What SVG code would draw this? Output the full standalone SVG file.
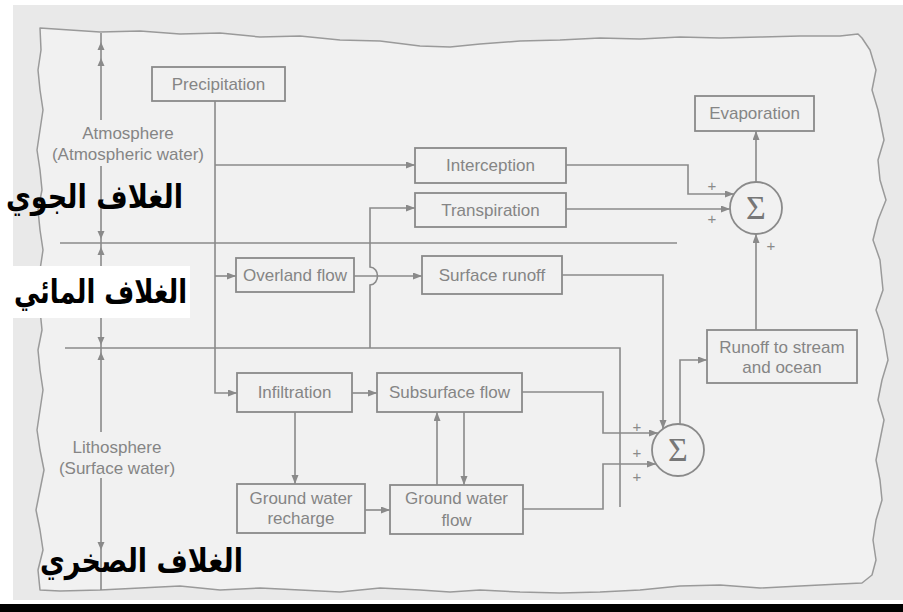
<svg xmlns="http://www.w3.org/2000/svg" width="903" height="612" viewBox="0 0 903 612">
<style>
.box{fill:none;stroke:#8a8a8a;stroke-width:1.8}
.ln{fill:none;stroke:#8a8a8a;stroke-width:1.6}
.t{font-family:"Liberation Sans",Arial,sans-serif;font-size:17px;fill:#858585;text-anchor:middle}
.sg{font-family:"Liberation Serif","Times New Roman",serif;font-size:34px;fill:#777777;text-anchor:middle}
.pl{font-family:"Liberation Sans",Arial,sans-serif;font-size:15px;fill:#8a8a8a;text-anchor:middle}
.ar{font-family:"DejaVu Sans",sans-serif;font-weight:bold;font-size:33px;fill:#000;text-anchor:start}
.ah{fill:#8a8a8a}
</style>
<defs>
<marker id="arr" markerUnits="userSpaceOnUse" markerWidth="10" markerHeight="8" refX="9" refY="3.5" orient="auto">
<path d="M0,0 L9,3.5 L0,7 z" fill="#8a8a8a"/>
</marker>
<path id="dn" d="M0,0 L-3.5,-8 L3.5,-8 z"/>
</defs>
<rect x="0" y="0" width="903" height="612" fill="#ffffff"/>
<rect x="13" y="5" width="890" height="595" fill="#e9e9e9"/>
<rect x="0" y="604" width="903" height="8" fill="#000000"/>
<g id="border">
<path d="M40,28 L70,30 L100,32 L140,31 L180,34 L220,33 L260,37 L300,36 L340,40 L380,41 L420,46 L450,47 L480,44 L520,41 L560,40 L600,38 L640,39 L680,37 L720,38 L760,37 L800,36 L840,36 L858,34 L862,38 L870,50 L876,70 L872,90 L878,110 L884,140 L878,160 L880,180 L886,200 L878,220 L873,240 L880,260 L883,290 L876,310 L883,330 L888,360 L882,380 L878,400 L884,420 L880,440 L876,460 L880,480 L882,500 L876,520 L873,540 L876,560 L872,575 L862,583 L840,584 L800,586 L760,588 L720,585 L680,586 L640,590 L600,592 L560,593 L520,592 L480,590 L450,592 L420,590 L380,588 L340,592 L300,590 L260,588 L220,590 L180,586 L140,588 L100,590 L60,591 L40,590 L38,570 L43,550 L40,530 L36,510 L40,490 L44,470 L40,450 L37,430 L40,410 L43,390 L40,370 L38,350 L42,330 L40,310 L37,290 L40,270 L43,250 L40,230 L38,210 L42,190 L40,170 L37,150 L40,130 L43,110 L40,90 L38,70 L41,50 Z" fill="#f1f1f1" stroke="#9a9a9a" stroke-width="1.5" stroke-linejoin="round"/>
</g>
<g id="axis">
<path class="ln" d="M101,33 V120 M101,166 V432 M101,478 V590"/>
<use href="#dn" class="ah" transform="translate(101,42) rotate(180)"/>
<use href="#dn" class="ah" transform="translate(101,58) rotate(180)"/>
<use href="#dn" class="ah" transform="translate(101,239)"/>
<use href="#dn" class="ah" transform="translate(101,247) rotate(180)"/>
<use href="#dn" class="ah" transform="translate(101,345)"/>
<use href="#dn" class="ah" transform="translate(101,352) rotate(180)"/>
<use href="#dn" class="ah" transform="translate(101,550)"/>
<text class="t" x="128" y="139">Atmosphere</text>
<text class="t" x="128" y="160">(Atmospheric water)</text>
<text class="t" x="117" y="453">Lithosphere</text>
<text class="t" x="117" y="474">(Surface water)</text>
</g>
<g id="connectors">
<path class="ln" d="M60,243 H677"/>
<path class="ln" d="M65,348 H620 V507"/>
<path class="ln" d="M215,101 V393 H237" marker-end="url(#arr)"/>
<path class="ln" d="M215,165 H415" marker-end="url(#arr)"/>
<path class="ln" d="M215,276 H236" marker-end="url(#arr)"/>
<path class="ln" d="M354,276 H422" marker-end="url(#arr)"/>
<path class="ln" d="M370,348 V285 C380,284 380,268 370,267 V208 H415" marker-end="url(#arr)"/>
<path class="ln" d="M566,165 H688 V194 H734" marker-end="url(#arr)"/>
<path class="ln" d="M566,209 H730" marker-end="url(#arr)"/>
<path class="ln" d="M756,182 V131" marker-end="url(#arr)"/>
<path class="ln" d="M756,330 V234" marker-end="url(#arr)"/>
<path class="ln" d="M562,275 H663 V429" marker-end="url(#arr)"/>
<path class="ln" d="M680,424 V360 H707" marker-end="url(#arr)"/>
<path class="ln" d="M522,392 H603 V433 H658" marker-end="url(#arr)"/>
<path class="ln" d="M523,509 H603 V464 H656" marker-end="url(#arr)"/>
<path class="ln" d="M352,393 H377" marker-end="url(#arr)"/>
<path class="ln" d="M295,412 V484" marker-end="url(#arr)"/>
<path class="ln" d="M365,510 H390" marker-end="url(#arr)"/>
<path class="ln" d="M437,485 V412" marker-end="url(#arr)"/>
<path class="ln" d="M464,412 V485" marker-end="url(#arr)"/>
<text class="pl" x="712" y="191">+</text>
<text class="pl" x="712" y="224">+</text>
<text class="pl" x="771" y="251">+</text>
<text class="pl" x="637" y="432">+</text>
<text class="pl" x="637" y="458">+</text>
<text class="pl" x="637" y="482">+</text>
</g>
<g id="precipitation"><rect class="box" x="152" y="67" width="133" height="34"/><text class="t" x="218.5" y="90">Precipitation</text></g>
<g id="interception"><rect class="box" x="415" y="148" width="151" height="35"/><text class="t" x="490.5" y="171">Interception</text></g>
<g id="transpiration"><rect class="box" x="415" y="193" width="151" height="34"/><text class="t" x="490.5" y="216">Transpiration</text></g>
<g id="evaporation"><rect class="box" x="695" y="96" width="119" height="35"/><text class="t" x="754.5" y="119">Evaporation</text></g>
<g id="sum-top"><circle class="box" cx="756" cy="208" r="26"/><text class="sg" x="756" y="219">Σ</text></g>
<g id="overland"><rect class="box" x="236" y="258" width="118" height="34"/><text class="t" x="295" y="281">Overland flow</text></g>
<g id="surface-runoff"><rect class="box" x="422" y="256" width="140" height="38"/><text class="t" x="492" y="281">Surface runoff</text></g>
<g id="runoff-ocean"><rect class="box" x="707" y="330" width="150" height="53"/><text class="t" x="782" y="353">Runoff to stream</text><text class="t" x="782" y="373">and ocean</text></g>
<g id="sum-bottom"><circle class="box" cx="678" cy="450" r="26"/><text class="sg" x="678" y="461">Σ</text></g>
<g id="infiltration"><rect class="box" x="237" y="373" width="115" height="39"/><text class="t" x="294.5" y="398">Infiltration</text></g>
<g id="subsurface"><rect class="box" x="377" y="373" width="145" height="39"/><text class="t" x="449.5" y="398">Subsurface flow</text></g>
<g id="gw-recharge"><rect class="box" x="237" y="484" width="128" height="49"/><text class="t" x="301" y="504">Ground water</text><text class="t" x="301" y="524">recharge</text></g>
<g id="gw-flow"><rect class="box" x="390" y="485" width="133" height="49"/><text class="t" x="456.5" y="504">Ground water</text><text class="t" x="456.5" y="526">flow</text></g>
<g id="arabic-labels">
<text class="ar" x="6" y="208" textLength="177" lengthAdjust="spacingAndGlyphs">الغلاف الجوي</text>
<rect x="13" y="266" width="177" height="52" fill="#ffffff"/>
<text class="ar" x="14" y="303" textLength="173" lengthAdjust="spacingAndGlyphs">الغلاف المائي</text>
<text class="ar" x="40" y="572" textLength="203" lengthAdjust="spacingAndGlyphs">الغلاف الصخري</text>
</g>
</svg>
